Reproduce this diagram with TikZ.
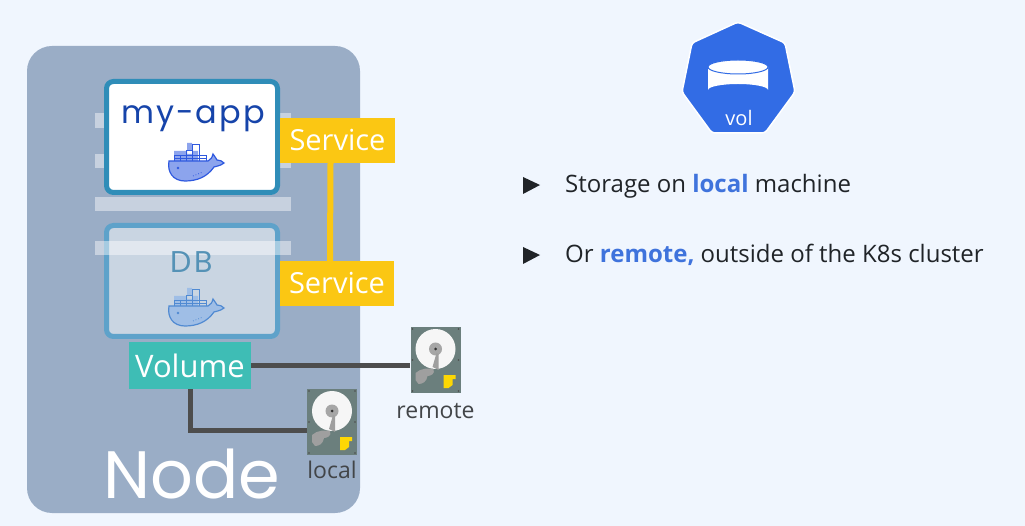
\documentclass[tikz,border=0pt]{standalone}
\usepackage{fontspec}
\setmainfont{Open Sans}
\newfontfamily\logofont{Poppins}
\usetikzlibrary{positioning,calc}
\definecolor{pagebg}{HTML}{F0F6FE}
\definecolor{nodegray}{HTML}{9AADC6}
\definecolor{appblue}{HTML}{2F8DB8}
\definecolor{dbblue}{HTML}{5EA2CA}
\definecolor{dbfill}{HTML}{C9D5E2}
\definecolor{svcyellow}{HTML}{FBC713}
\definecolor{voltteal}{HTML}{3EBDB5}
\definecolor{wirecolor}{HTML}{4D4D4D}
\definecolor{kubeblue}{HTML}{326CE5}
\definecolor{hilite}{HTML}{3F73DC}
\definecolor{diskgray}{HTML}{6B7F7D}
\definecolor{inktext}{HTML}{202428}
\tikzset{
  svcbox/.style={fill=svcyellow, text=white, minimum width=115pt, minimum height=45pt, inner sep=0pt, font=\fontsize{29}{29}\selectfont},
  boxstyle/.style={rounded corners=7pt, line width=5pt, minimum width=171pt, minimum height=111pt, inner sep=0pt},
  barstyle/.style={fill=white, opacity=0.45},
  wire/.style={wirecolor, line width=5pt},
  drive/.style={fill=diskgray, minimum width=50pt, minimum height=66pt, inner sep=0pt},
  caption/.style={text=inktext!85!white, font=\fontsize{23}{23}\selectfont},
  bullet/.style={anchor=west, text=inktext, inner sep=0pt, font=\fontsize{24}{24}\selectfont},
  tick/.style={fill=inktext, draw=none},
  whale/.pic={
    \fill[#1!55!white] (-19,1) rectangle (5,-9) (-6,-9) rectangle (-1,-17) (-1,-6) rectangle (-6,-9);
    \draw[#1, line width=0.9pt] (-19,1) -- (-19,-5) -- (-7,-5) -- (-7,-10) -- (-1,-10) -- (-1,-16) -- (6,-16) -- (6,-5) -- (13,-5) -- (13,1);
    \draw[#1, line width=0.6pt] (-13,-5) -- (-13,1) (-7,-5) -- (-7,1) (-1,-10) -- (-1,1) (6,-5) -- (6,1) (-19,-2) -- (13,-2) (-7,-5) -- (6,-5);
    \draw[#1, fill=#1!55!white, line width=1.2pt] (-24,1) -- (15,1) .. controls (18,-1) and (19,-2) .. (20,-6) .. controls (22,-3) and (23,-2) .. (24,0) .. controls (27,0) and (29,1) .. (31,3) .. controls (27,6) and (24,6) .. (21,7) .. controls (14,17) and (4,21) .. (-8,21) .. controls (-20,21) and (-26,12) .. (-24,1) -- cycle;
    \fill[#1] (-15,8) circle (1.3pt);
    \draw[#1, line width=0.8pt, dotted] (0,16) -- (10,12);
  },
  platter/.pic={
    \fill[white!93!gray] (0,-11) circle (20pt);
    \fill[gray!70] (0,-11) circle (6.5pt);
    \fill[gray!40!black] (0,-11) circle (1.5pt);
    \fill[gray!75] (-3,7) -- (1,-7) -- (3,-6) -- (3,10) -- cycle;
    \fill[gray!75] (-20,13) .. controls (-15,8) and (-6,8) .. (-2,9) .. controls (0,14) and (-5,16) .. (-8,16) .. controls (-9,22) and (-13,24) .. (-17,24) -- (-20,20) -- cycle;
    \fill[yellow!75!orange] (8,15) -- (20,15) -- (20,19) -- (17,19) -- (17,25) -- (13,28) -- (8,28) -- cycle;
    \foreach \px/\py in {-23/-31,23/-31,-23/31,23/31,-23/0,23/0}
      \fill[black!70] (\px,\py) circle (0.9pt);
  }
}
\begin{document}
\begin{tikzpicture}[x=1pt,y=-1pt]
\useasboundingbox[fill=pagebg] (0,0) rectangle (1025,526);
% cluster node
\fill[nodegray, rounded corners=25pt] (27,46) rectangle (360,513);
\node[text=white, inner sep=0pt, font=\logofont\fontsize{67}{67}\selectfont] (nodename) at (192,474) {Node};
% strips behind the boxes
\foreach \ya/\yb in {113/128,154/168,197/211}
  \fill[barstyle] (95,\ya) rectangle (291,\yb);
% containers
\node[boxstyle, draw=appblue, fill=white] (app) at (192,137) {};
\node[boxstyle, draw=dbblue, fill=dbfill] (db) at (192,281) {};
\fill[barstyle] (95,241) rectangle (291,255);
\node[text=appblue!60!blue!80!black, inner sep=0pt, font=\logofont\fontsize{32}{32}\selectfont] (apptext) at (193,119) {m\kern2pt y\kern2pt -\kern2pt a\kern2pt p\kern2pt p};
\node[text=dbblue!90!black, inner sep=0pt, font=\logofont\fontsize{30}{30}\selectfont] (dbtext) at (192,262) {D\kern3pt B};
\pic at (193,160) {whale={appblue!50!blue!90!white}};
\pic at (193,305) {whale={dbblue!85!blue}};
% services
\node[svcbox] (svca) at (337.5,140.5) {Service};
\node[svcbox, minimum width=114pt] (svcb) at (337,283.5) {Service};
\draw[svcyellow, line width=6pt] ([xshift=-7pt]svca.south) -- ([xshift=-7pt]svcb.north);
% volume and its drives
\node[fill=voltteal, text=white, minimum width=122pt, minimum height=47pt, inner sep=0pt, font=\fontsize{31}{31}\selectfont] (volume) at (190,365.5) {Volume};
\node[drive] (remote) at (435.5,360) {};
\node[drive] (local) at (332,422) {};
\pic at (remote.center) {platter};
\pic at (local.center) {platter};
\node[caption, below=7pt of remote] (remotetext) {remote};
\node[caption, below=2pt of local] (localtext) {local};
\draw[wire] (volume.east) -- (volume.east -| remote.west);
\draw[wire] (volume.south) |- ($(local.west)+(0,8)$);
% vol badge
\fill[kubeblue, draw=white, line width=1.5pt, line join=round, rounded corners=3pt] (738,22) -- (785,43) -- (795,92) -- (765,133) -- (712,133) -- (682,92) -- (692,43) -- cycle;
\fill[white] (708,67) -- (708,90) arc[start angle=180, end angle=360, x radius=30pt, y radius=-6pt] -- (768,67) -- cycle;
\fill[white, draw=kubeblue, line width=1pt] (738,67) ellipse (30pt and 7pt);
\node[text=white, inner sep=0pt, font=\fontsize{20}{20}\selectfont] (vol) at (739,118) {vol};
% bullet list
\node[bullet] (lineone) at (565,186) {Storage on \textcolor{hilite}{\textbf{local}} machine};
\node[bullet] (linetwo) at (565,255) {Or \textcolor{hilite}{\textbf{remote,}} outside of the K8s cluster};
\fill[tick] (523,177) -- (540,185) -- (523,194) -- cycle;
\fill[tick] (523,247) -- (540,255) -- (523,264) -- cycle;
\end{tikzpicture}
\end{document}
